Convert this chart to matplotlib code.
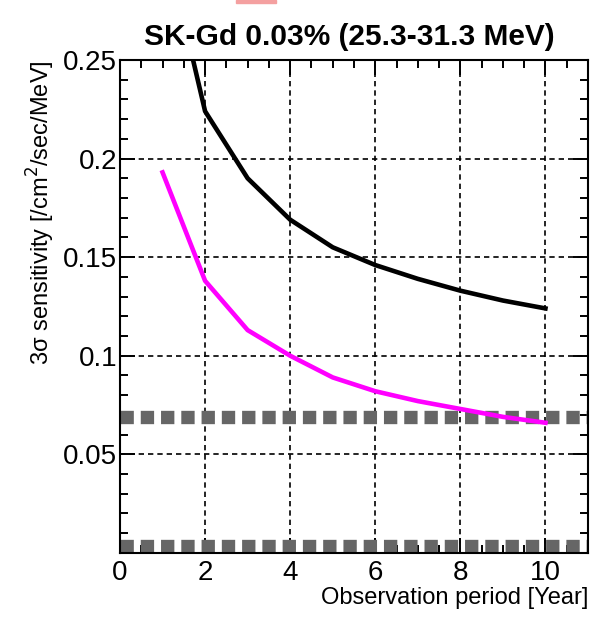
#!/usr/bin/env python3
"""SK-Gd 0.03% 3-sigma sensitivity vs observation period (ROOT-style look)."""
import matplotlib
matplotlib.use("Agg")
import matplotlib.pyplot as plt
from matplotlib.ticker import MultipleLocator, FixedLocator, FixedFormatter
from matplotlib.patches import Rectangle

plt.rcParams.update({
    "font.family": ["Liberation Sans", "DejaVu Sans"],
    "font.size": 20,
    "axes.linewidth": 1.5,
})

YEARS = [1, 2, 3, 4, 5, 6, 7, 8, 9, 10]
SENS_BLACK = [0.316, 0.224, 0.190, 0.169, 0.155, 0.146, 0.139, 0.133, 0.128, 0.124]
SENS_MAGENTA = [0.193, 0.138, 0.113, 0.100, 0.089, 0.082, 0.077, 0.073, 0.069, 0.066]
GRAY_LEVELS = [0.069, 0.0035]

X_TICKS = [0, 2, 4, 6, 8, 10]
Y_TICKS = [0.05, 0.1, 0.15, 0.2, 0.25]
Y_TICKLABELS = ["0.05", "0.1", "0.15", "0.2", "0.25"]

fig = plt.figure(figsize=(5.95, 6.21), dpi=100)
ax = fig.add_axes([120 / 595, 1 - 552.9 / 621, 468 / 595, 492.9 / 621])

GRID_DASH = (0, (3.2, 2.4))
for gx in X_TICKS[1:]:
    ax.axvline(gx, color="black", lw=1.2, linestyle=GRID_DASH, zorder=1)
for gy in Y_TICKS[:-1]:
    ax.axhline(gy, color="black", lw=1.2, linestyle=GRID_DASH, zorder=1)

for lvl in GRAY_LEVELS:
    ax.plot([0, 11], [lvl, lvl], color="#666666", lw=9.6,
            linestyle=(0, (1.0, 0.52)), dash_capstyle="butt", zorder=2)

ax.plot(YEARS, SENS_BLACK, color="black", lw=3.3, zorder=3,
        solid_joinstyle="round")
ax.plot(YEARS, SENS_MAGENTA, color="#ff00ff", lw=3.3, zorder=3,
        solid_joinstyle="round")

ax.set_xlim(0, 11)
ax.set_ylim(0, 0.25)
ax.xaxis.set_major_locator(FixedLocator(X_TICKS))
ax.xaxis.set_minor_locator(MultipleLocator(0.5))
ax.yaxis.set_major_locator(FixedLocator(Y_TICKS))
ax.yaxis.set_major_formatter(FixedFormatter(Y_TICKLABELS))
ax.yaxis.set_minor_locator(MultipleLocator(0.01))

ax.tick_params(which="both", direction="in", top=True, right=True,
               width=1.4, colors="black", labelsize=20)
ax.tick_params(which="major", length=11, pad=2)
ax.tick_params(which="minor", length=5.5)
ax.tick_params(axis="x", which="major", pad=5)

ax.set_xlabel("Observation period [Year]", loc="right", fontsize=17, labelpad=1)
ax.set_ylabel("3σ sensitivity [/cm$^2$/sec/MeV]", loc="top", fontsize=17)
ax.yaxis.set_label_coords(-0.135, 1.0)
ax.set_title("SK-Gd 0.03% (25.3-31.3 MeV)", fontsize=21.5, fontweight="bold",
             x=0.49, pad=11)

fig.patches.append(Rectangle((236 / 595, 1 - 3 / 621), 40 / 595, 3 / 621,
                             transform=fig.transFigure, color="#f4a0a0"))

fig.savefig("out.png", dpi=100)
